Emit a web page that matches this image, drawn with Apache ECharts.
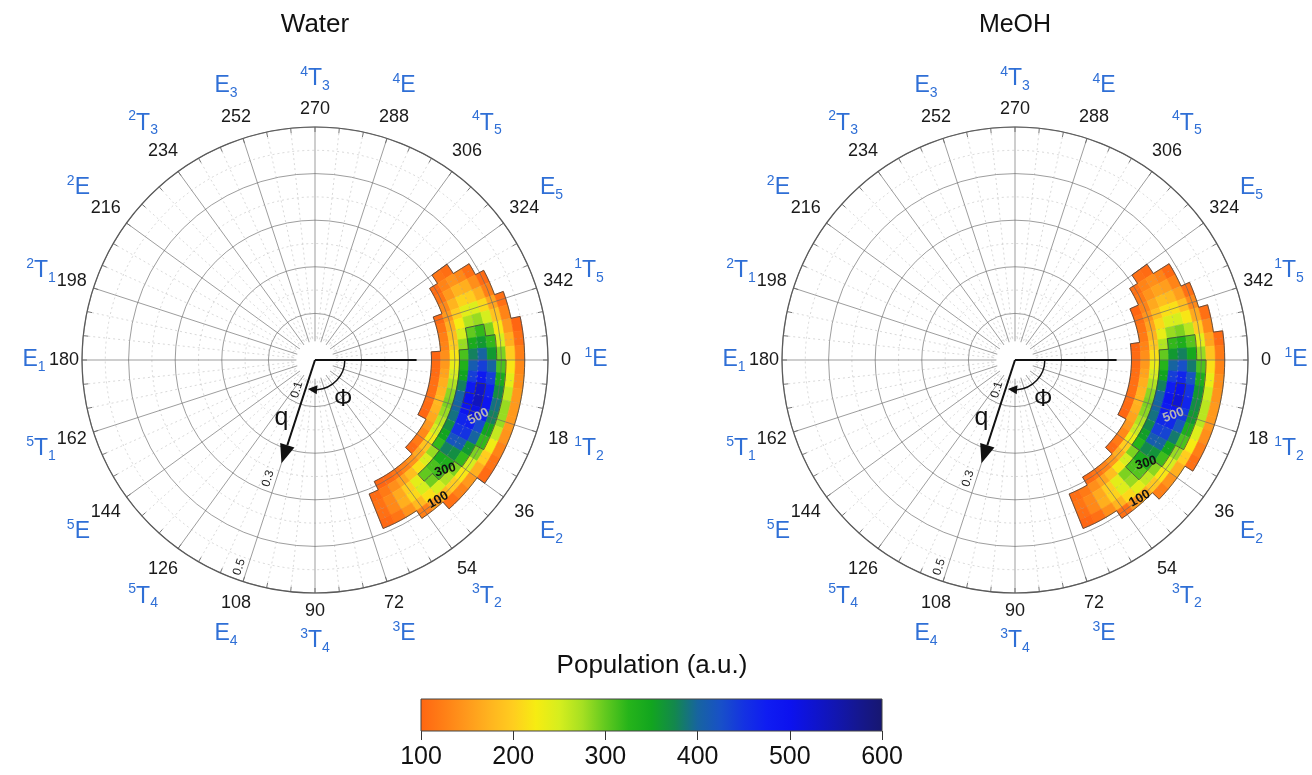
<!DOCTYPE html>
<html>
<head>
<meta charset="utf-8">
<script src="https://cdn.jsdelivr.net/npm/echarts@6/dist/echarts.min.js"></script>
<style>
  html, body { margin: 0; padding: 0; background: #fff; }
  #main { width: 1312px; height: 775px; }
</style>
</head>
<body>
<div id="main"></div>
<script>
// bin centres: pseudorotation phase (deg) and puckering amplitude q
const binAngles = [-34, -30, -26, -22, -18, -14, -10, -6, -2, 2, 6, 10, 14, 18, 22, 26, 30, 34, 38, 42, 46, 50, 54, 58, 62, 66];
const binRadii = [0.26, 0.28, 0.30, 0.32, 0.34, 0.36, 0.38, 0.40, 0.42, 0.44];

// population per angle bin (rows) and q bin (columns), 0 = empty
const waterPop = [
  [0, 0, 0, 115, 108, 0, 0, 0, 0, 0],
  [0, 0, 105, 130, 145, 135, 110, 0, 0, 0],
  [0, 0, 115, 150, 175, 170, 140, 105, 0, 0],
  [0, 0, 135, 175, 205, 200, 170, 125, 0, 0],
  [0, 105, 150, 200, 240, 245, 210, 160, 110, 0],
  [0, 115, 170, 225, 270, 280, 250, 190, 130, 0],
  [0, 125, 185, 250, 300, 320, 290, 220, 150, 100],
  [0, 130, 200, 280, 340, 360, 320, 250, 170, 110],
  [100, 140, 220, 310, 380, 400, 360, 290, 200, 125],
  [105, 150, 235, 330, 410, 440, 400, 310, 220, 135],
  [105, 160, 250, 350, 440, 480, 440, 340, 240, 140],
  [110, 170, 270, 380, 480, 525, 470, 370, 260, 150],
  [110, 175, 285, 400, 500, 540, 490, 390, 280, 150],
  [110, 180, 290, 400, 490, 510, 470, 380, 280, 150],
  [105, 175, 280, 390, 465, 470, 430, 350, 260, 145],
  [100, 165, 265, 370, 450, 450, 400, 320, 230, 130],
  [0, 150, 250, 350, 420, 410, 360, 290, 200, 115],
  [0, 135, 220, 320, 380, 370, 320, 250, 170, 105],
  [0, 120, 190, 280, 340, 335, 290, 220, 150, 0],
  [0, 105, 165, 245, 310, 315, 270, 200, 130, 0],
  [0, 0, 145, 215, 300, 295, 250, 180, 110, 0],
  [0, 0, 130, 185, 240, 250, 215, 155, 0, 0],
  [0, 0, 115, 160, 200, 210, 180, 125, 0, 0],
  [0, 0, 105, 140, 165, 170, 145, 0, 0, 0],
  [0, 0, 100, 120, 135, 135, 115, 0, 0, 0],
  [0, 0, 0, 105, 112, 110, 102, 0, 0, 0]
];
const meohPop = [
  [0, 0, 0, 110, 105, 0, 0, 0, 0, 0],
  [0, 0, 110, 130, 140, 130, 105, 0, 0, 0],
  [0, 0, 120, 145, 160, 155, 130, 0, 0, 0],
  [0, 100, 130, 165, 185, 180, 155, 110, 0, 0],
  [0, 110, 145, 185, 215, 215, 185, 135, 0, 0],
  [0, 115, 160, 210, 245, 250, 220, 165, 110, 0],
  [0, 120, 175, 235, 280, 290, 265, 200, 135, 0],
  [100, 130, 195, 270, 320, 335, 305, 240, 160, 105],
  [105, 140, 215, 300, 360, 380, 345, 280, 190, 120],
  [105, 150, 235, 325, 400, 425, 385, 310, 215, 130],
  [108, 160, 250, 350, 440, 465, 420, 335, 235, 140],
  [110, 170, 270, 380, 475, 500, 450, 360, 255, 145],
  [110, 175, 285, 400, 495, 520, 465, 370, 265, 150],
  [108, 175, 290, 400, 480, 490, 445, 360, 265, 150],
  [105, 170, 285, 390, 460, 460, 415, 335, 245, 140],
  [100, 160, 270, 375, 440, 435, 385, 310, 225, 125],
  [0, 150, 255, 355, 410, 400, 350, 280, 200, 110],
  [0, 135, 230, 325, 375, 365, 315, 250, 170, 0],
  [0, 120, 200, 290, 340, 330, 285, 220, 145, 0],
  [0, 105, 170, 250, 310, 305, 260, 195, 125, 0],
  [0, 0, 150, 220, 290, 280, 240, 170, 0, 0],
  [0, 0, 130, 185, 240, 245, 210, 150, 0, 0],
  [0, 0, 115, 160, 200, 205, 175, 110, 0, 0],
  [0, 0, 105, 140, 165, 170, 140, 0, 0, 0],
  [0, 0, 0, 120, 135, 135, 110, 0, 0, 0],
  [0, 0, 0, 108, 115, 110, 100, 0, 0, 0]
];

const contourLevels = [100, 300, 500];
const angleTicks = [0, 18, 36, 54, 72, 90, 108, 126, 144, 162, 180, 198, 216, 234, 252, 270, 288, 306, 324, 342];
const pseudoNames = [
  '{s|1}{m|E}', '{s|1}{m|T}{b|2}', '{m|E}{b|2}', '{s|3}{m|T}{b|2}', '{s|3}{m|E}',
  '{s|3}{m|T}{b|4}', '{m|E}{b|4}', '{s|5}{m|T}{b|4}', '{s|5}{m|E}', '{s|5}{m|T}{b|1}',
  '{m|E}{b|1}', '{s|2}{m|T}{b|1}', '{s|2}{m|E}', '{s|2}{m|T}{b|3}', '{m|E}{b|3}',
  '{s|4}{m|T}{b|3}', '{s|4}{m|E}', '{s|4}{m|T}{b|5}', '{m|E}{b|5}', '{s|1}{m|T}{b|5}'
];
const radialTicks = [0.1, 0.3, 0.5];
const barTicks = [100, 200, 300, 400, 500, 600];
// [text, q, phase, tilt]
const waterContourLabels = [['100', 0.400, 48.7, 30], ['300', 0.366, 40.2, 17], ['500', 0.371, 19.1, 27]];
const meohContourLabels = [['100', 0.400, 48.0, 30], ['300', 0.358, 38.2, 17], ['500', 0.360, 19.2, 20]];

const popColors = ['#ff6612', '#ff7f16', '#ff991c', '#ffb41f', '#ffcd1f', '#f6ec12', '#d6ee1e', '#a6e022',
  '#62c91f', '#26b41a', '#12a51f', '#13884d', '#1764a0', '#1850c8', '#1432e2', '#0f1cf2', '#0c12ef',
  '#0f14d0', '#1216b0', '#15178e', '#171770'];

const FONT = 'Liberation Sans, Arial, sans-serif';
const BLUE = '#2f6fd6';
const dA = 2, dR = 0.01;

const chart = echarts.init(document.getElementById('main'));

function cellData(grid) {
  const out = [];
  grid.forEach((row, i) => row.forEach((v, j) => {
    if (v > 0) out.push([binRadii[j], binAngles[i], v]);
  }));
  return out;
}

// staircase contour edges along bin borders
function contourEdges(grid) {
  const val = (i, j) => (i >= 0 && i < grid.length && j >= 0 && j < binRadii.length) ? grid[i][j] : 0;
  const edges = [];
  contourLevels.forEach(level => {
    for (let i = -1; i < grid.length; i++) {
      for (let j = -1; j < binRadii.length; j++) {
        const inside = val(i, j) >= level;
        if (i >= 0 && (val(i, j + 1) >= level) !== inside) {
          const r = j >= 0 ? binRadii[j] + dR : binRadii[0] - dR;
          edges.push([r, binAngles[i] - dA, r, binAngles[i] + dA]);
        }
        if (j >= 0 && (val(i + 1, j) >= level) !== inside) {
          const a = i >= 0 ? binAngles[i] + dA : binAngles[0] - dA;
          edges.push([binRadii[j] - dR, a, binRadii[j] + dR, a]);
        }
      }
    }
  });
  return edges;
}

function polarInfo(cs, p) {
  const dx = p[0] - cs.cx, dy = p[1] - cs.cy;
  return { r: Math.hypot(dx, dy), ang: Math.atan2(dy, dx) };
}

function renderCell(params, api) {
  const cs = params.coordSys;
  const r = api.value(0), a = api.value(1);
  const p0 = polarInfo(cs, api.coord([r - dR, a - dA]));
  const p1 = polarInfo(cs, api.coord([r + dR, a + dA]));
  const color = api.visual('color');
  return {
    type: 'sector',
    shape: { cx: cs.cx, cy: cs.cy, r0: p0.r, r: p1.r, startAngle: p0.ang, endAngle: p1.ang, clockwise: true },
    style: { fill: color, stroke: color, lineWidth: 0.7 }
  };
}

function renderEdge(params, api) {
  const cs = params.coordSys;
  const p0 = api.coord([api.value(0), api.value(1)]);
  const p1 = api.coord([api.value(2), api.value(3)]);
  const style = { stroke: '#404040', lineWidth: 0.8, fill: null };
  if (api.value(0) === api.value(2)) {
    const a0 = polarInfo(cs, p0), a1 = polarInfo(cs, p1);
    return { type: 'arc', shape: { cx: cs.cx, cy: cs.cy, r: a0.r, startAngle: a0.ang, endAngle: a1.ang, clockwise: true }, style };
  }
  return { type: 'line', shape: { x1: p0[0], y1: p0[1], x2: p1[0], y2: p1[1] }, style };
}

const richBlue = {
  s: { fontSize: 14, lineHeight: 14, verticalAlign: 'top', fill: BLUE, fontFamily: FONT },
  m: { fontSize: 23, lineHeight: 28, fill: BLUE, fontFamily: FONT },
  b: { fontSize: 14, lineHeight: 13, verticalAlign: 'bottom', fill: BLUE, fontFamily: FONT }
};

function renderAngleLabel(params, api) {
  const cs = params.coordSys;
  const a = api.value(1), i = api.value(2);
  const p = api.coord([api.value(0), a]);
  const dx = p[0] - cs.cx, dy = p[1] - cs.cy, R = Math.hypot(dx, dy);
  const ux = dx / R, uy = dy / R;
  const s2 = Math.abs(Math.sin(2 * Math.atan2(dy, dx)));
  const rb = R + 18 + 8 * s2, rl = R + 48 + 12 * s2;
  return {
    type: 'group',
    children: [
      { type: 'text', x: cs.cx + ux * rb, y: cs.cy + uy * rb,
        style: { text: String(a), fill: '#1a1a1a', fontSize: 18, fontFamily: FONT, align: 'center', verticalAlign: 'middle' } },
      { type: 'text', x: cs.cx + ux * rl, y: cs.cy + uy * rl,
        style: { text: pseudoNames[i], rich: richBlue, fill: BLUE, fontFamily: FONT, align: 'center', verticalAlign: 'middle' } }
    ]
  };
}

function makeAnnot(labels) {
  return function (params, api) {
    const cs = params.coordSys, cx = cs.cx, cy = cs.cy;
    const pt = (r, a) => api.coord([r, a]);
    const pxr = r => polarInfo(cs, pt(r, 0)).r;
    const ch = [];
    // white hole in the middle of the grid
    ch.push({ type: 'circle', shape: { cx, cy, r: pxr(0.04) }, style: { fill: '#fff' } });
    // phase reference
    const e = pt(0.218, 0);
    ch.push({ type: 'line', shape: { x1: cx, y1: cy, x2: e[0], y2: e[1] }, style: { stroke: '#111', lineWidth: 2 } });
    // q arrow
    const tip = pt(0.233, 108);
    const L = Math.hypot(tip[0] - cx, tip[1] - cy);
    const ux = (tip[0] - cx) / L, uy = (tip[1] - cy) / L;
    const bx = tip[0] - ux * 19, by = tip[1] - uy * 19;
    ch.push({ type: 'line', shape: { x1: cx, y1: cy, x2: bx, y2: by }, style: { stroke: '#111', lineWidth: 2 } });
    ch.push({ type: 'polygon', shape: { points: [tip, [bx - uy * 7.5, by + ux * 7.5], [bx + uy * 7.5, by - ux * 7.5]] }, style: { fill: '#111' } });
    // phase arc with arrow head
    const ar = pxr(0.064);
    const endA = polarInfo(cs, pt(0.064, 86)).ang;
    ch.push({ type: 'arc', shape: { cx, cy, r: ar, startAngle: 0, endAngle: endA, clockwise: true }, style: { stroke: '#111', lineWidth: 1.5, fill: null } });
    const hb = pt(0.064, 86), ht = pt(0.064, 104);
    const hl = Math.hypot(ht[0] - hb[0], ht[1] - hb[1]);
    const hx = (ht[0] - hb[0]) / hl, hy = (ht[1] - hb[1]) / hl;
    ch.push({ type: 'polygon', shape: { points: [ht, [hb[0] - hy * 4.5, hb[1] + hx * 4.5], [hb[0] + hy * 4.5, hb[1] - hx * 4.5]] }, style: { fill: '#111' } });
    const phiPos = pt(0.105, 55), qPos = pt(0.144, 120);
    ch.push({ type: 'text', x: phiPos[0], y: phiPos[1], style: { text: 'Φ', fontSize: 23, fill: '#111', fontFamily: FONT, align: 'center', verticalAlign: 'middle' } });
    ch.push({ type: 'text', x: qPos[0], y: qPos[1], style: { text: 'q', fontSize: 25, fill: '#111', fontFamily: FONT, align: 'center', verticalAlign: 'middle' } });
    // radial tick labels along the q direction
    const d1 = pt(1, 108);
    const dl = Math.hypot(d1[0] - cx, d1[1] - cy);
    const dx = (d1[0] - cx) / dl, dy = (d1[1] - cy) / dl;
    const rot = -Math.atan2(-dy, -dx);
    radialTicks.forEach(v => {
      const p = pt(v - 0.027, 108);
      ch.push({ type: 'text', x: p[0] - dy * 8, y: p[1] + dx * 8, rotation: rot,
        style: { text: String(v), fontSize: 12, fill: '#222', fontFamily: FONT, align: 'center', verticalAlign: 'middle' } });
    });
    // contour labels
    labels.forEach(l => {
      const p = pt(l[1], l[2]);
      ch.push({ type: 'text', x: p[0], y: p[1], rotation: l[3] * Math.PI / 180,
        style: { text: l[0], fontSize: 13, fontWeight: 'bold', fill: l[0] === '500' ? '#b4b4b4' : '#111', fontFamily: FONT, align: 'center', verticalAlign: 'middle' } });
    });
    return { type: 'group', children: ch };
  };
}

const series = [];
const heatIdx = [];
function addChart(polarIndex, grid, labels) {
  heatIdx.push(series.length);
  series.push({ type: 'custom', coordinateSystem: 'polar', polarIndex, z: 2,
    encode: { radius: 0, angle: 1 }, data: cellData(grid), renderItem: renderCell });
  series.push({ type: 'custom', coordinateSystem: 'polar', polarIndex, z: 4,
    encode: { radius: 0, angle: 1 }, data: contourEdges(grid), renderItem: renderEdge });
  series.push({ type: 'custom', coordinateSystem: 'polar', polarIndex, z: 5,
    encode: { radius: 0, angle: 1 }, data: [[0, 0]], renderItem: makeAnnot(labels) });
  series.push({ type: 'custom', coordinateSystem: 'polar', polarIndex, z: 5,
    encode: { radius: 0, angle: 1 }, data: angleTicks.map((a, i) => [0.5, a, i]), renderItem: renderAngleLabel });
}
addChart(0, waterPop, waterContourLabels);
addChart(1, meohPop, meohContourLabels);

series.push({
  type: 'custom', coordinateSystem: 'cartesian2d', xAxisIndex: 0, yAxisIndex: 0,
  encode: { x: [0, 2], y: [1, 3] },
  data: [[barTicks[0], 0, barTicks[barTicks.length - 1], 1]],
  renderItem: function (params, api) {
    const p0 = api.coord([api.value(0), api.value(1)]);
    const p1 = api.coord([api.value(2), api.value(3)]);
    return {
      type: 'rect',
      shape: { x: p0[0], y: p1[1], width: p1[0] - p0[0], height: p0[1] - p1[1] },
      style: {
        fill: new echarts.graphic.LinearGradient(0, 0, 1, 0, popColors.map((c, i) => ({ offset: i / (popColors.length - 1), color: c }))),
        stroke: '#444', lineWidth: 1
      }
    };
  }
});

function angleAxis(polarIndex) {
  return {
    polarIndex, type: 'value', min: 0, max: 360, interval: 18, startAngle: 0, clockwise: true, z: 3,
    axisLine: { lineStyle: { color: '#5a5a5a', width: 1.2 } },
    axisTick: { show: true, inside: true, length: 5, lineStyle: { color: '#777' } },
    minorTick: { show: true, splitNumber: 3, length: 5, lineStyle: { color: '#777' } },
    axisLabel: { show: false },
    splitLine: { show: true, lineStyle: { color: 'rgba(105,105,105,0.65)', width: 1 } },
    minorSplitLine: { show: true, lineStyle: { color: 'rgba(160,160,160,0.5)', width: 0.8, type: [2, 3] } }
  };
}
function radiusAxis(polarIndex) {
  return {
    polarIndex, type: 'value', min: 0, max: 0.5, interval: 0.1, z: 3,
    axisLine: { show: false }, axisTick: { show: false }, axisLabel: { show: false },
    splitLine: { show: true, lineStyle: { color: 'rgba(105,105,105,0.65)', width: 1 } },
    minorTick: { show: false, splitNumber: 2 },
    minorSplitLine: { show: true, lineStyle: { color: 'rgba(160,160,160,0.5)', width: 0.8, type: [2, 3] } }
  };
}

chart.setOption({
  backgroundColor: '#fff',
  animation: false,
  textStyle: { fontFamily: FONT },
  polar: [
    { center: [315, 360], radius: 233 },
    { center: [1015, 360], radius: 233 }
  ],
  angleAxis: [angleAxis(0), angleAxis(1)],
  radiusAxis: [radiusAxis(0), radiusAxis(1)],
  grid: { left: 421, top: 699, width: 461, height: 32 },
  xAxis: {
    type: 'value', min: barTicks[0], max: barTicks[barTicks.length - 1], interval: 100,
    axisLine: { show: false },
    axisTick: { show: true, length: 9, lineStyle: { color: '#333' } },
    axisLabel: { fontSize: 25, color: '#111', margin: 14, fontFamily: FONT },
    splitLine: { show: false }
  },
  yAxis: { type: 'value', min: 0, max: 1, show: false },
  visualMap: {
    type: 'continuous', show: false, min: 100, max: 600, dimension: 2,
    seriesIndex: heatIdx, inRange: { color: popColors }
  },
  graphic: [
    { type: 'text', x: 315, y: 25, style: { text: 'Water', fontSize: 26, fill: '#111', fontFamily: FONT, align: 'center', verticalAlign: 'middle' } },
    { type: 'text', x: 1015, y: 25, style: { text: 'MeOH', fontSize: 25, fill: '#111', fontFamily: FONT, align: 'center', verticalAlign: 'middle' } },
    { type: 'text', x: 652, y: 666, style: { text: 'Population (a.u.)', fontSize: 26, fill: '#111', fontFamily: FONT, align: 'center', verticalAlign: 'middle' } }
  ],
  series
});
</script>
</body>
</html>
